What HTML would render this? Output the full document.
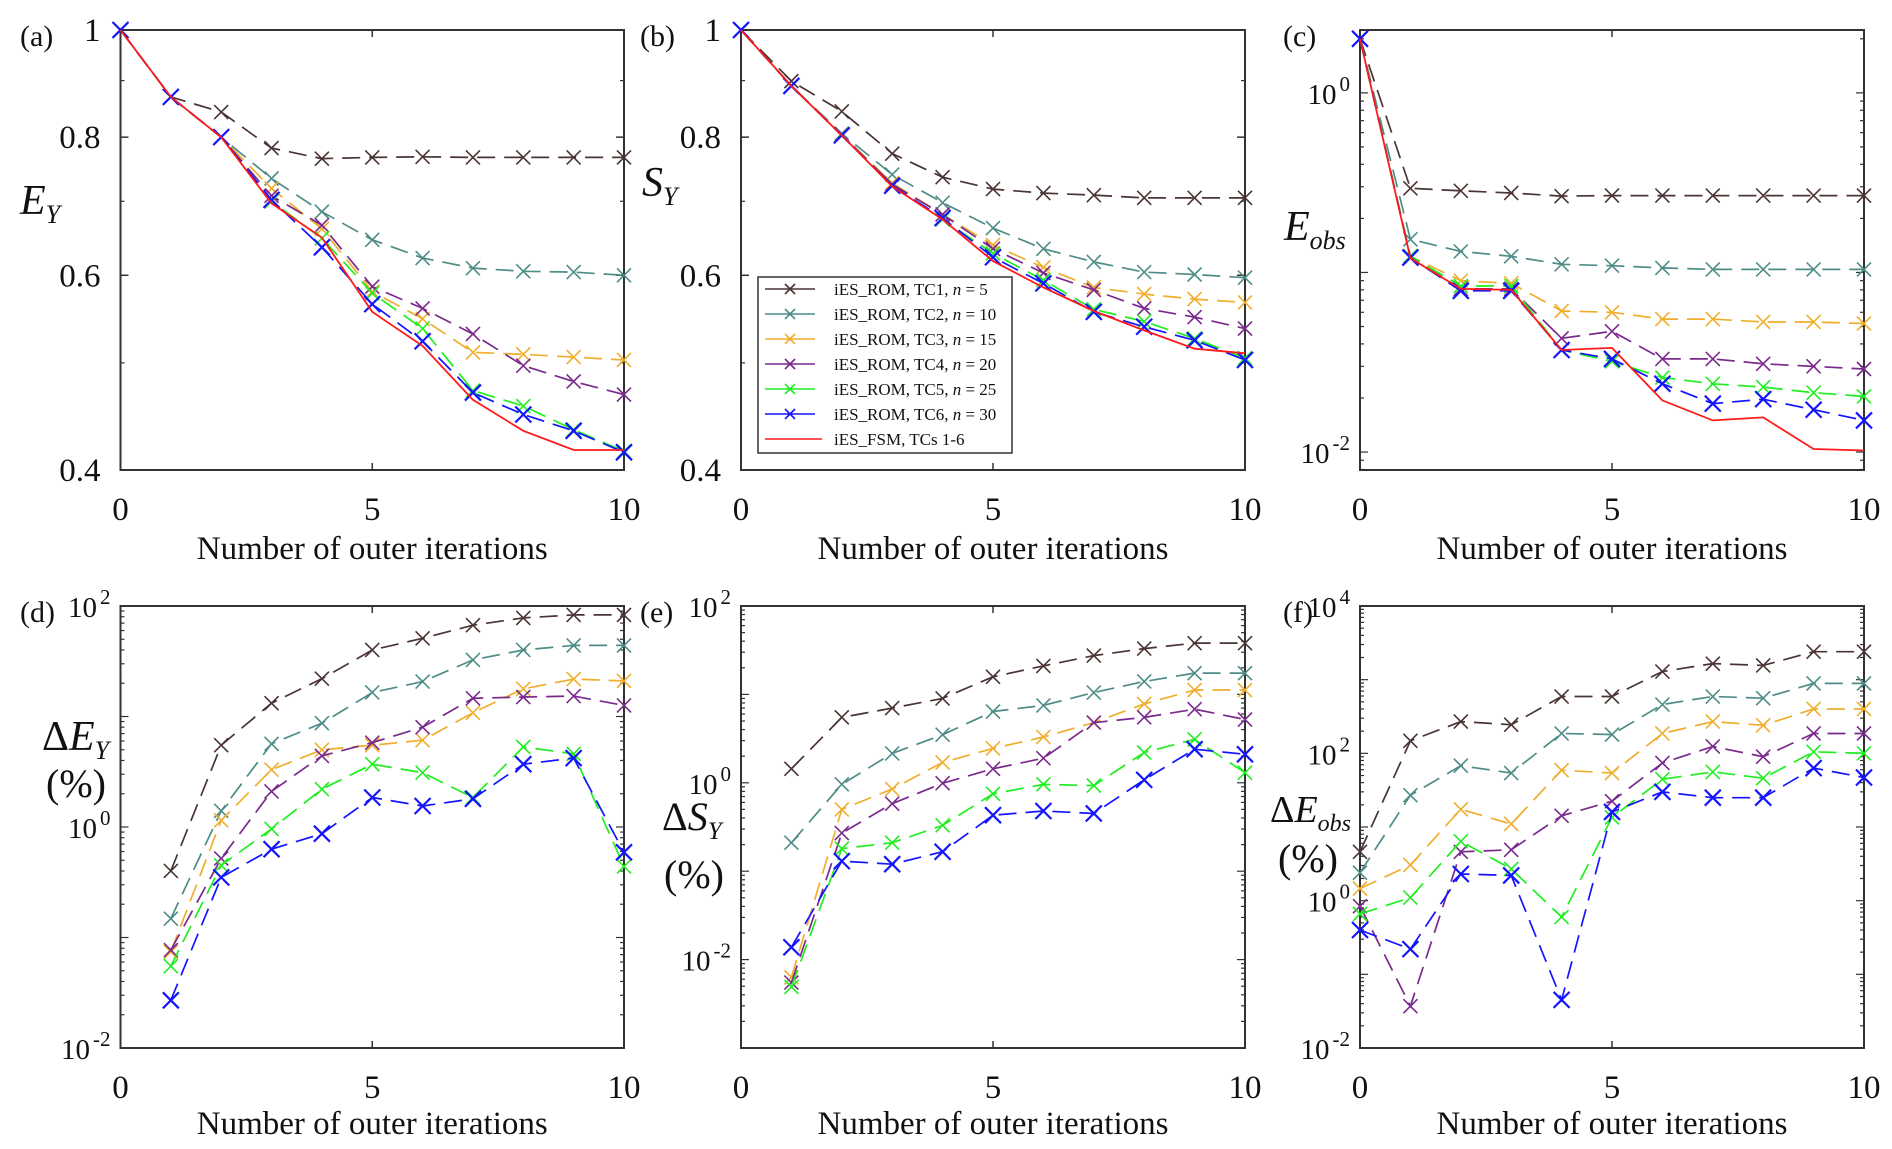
<!DOCTYPE html>
<html><head><meta charset="utf-8"><style>
html,body{margin:0;padding:0;background:#fff;}
svg{display:block;font-family:"Liberation Serif",serif;}
</style></head><body>
<svg id="fig" width="1892" height="1149" viewBox="0 0 1892 1149" xmlns="http://www.w3.org/2000/svg"></svg>
<script>
// ---- data ----
const iters = [0,1,2,3,4,5,6,7,8,9,10];
const itersFrom1 = [1,2,3,4,5,6,7,8,9,10];
const seriesNames = ["iES_ROM, TC1, ","iES_ROM, TC2, ","iES_ROM, TC3, ","iES_ROM, TC4, ","iES_ROM, TC5, ","iES_ROM, TC6, "];
const seriesN = [5,10,15,20,25,30];
const colors = ["#4a3434","#4e8c88","#f0ae2c","#7a2a8c","#20ee20","#1414ff"];
const fsmColor = "#ff1a1a";

const aTC1 = [1,0.87,0.843,0.782,0.765,0.767,0.768,0.767,0.767,0.767,0.767];
const aTC2 = [1,0.87,0.80,0.734,0.685,0.646,0.622,0.609,0.605,0.604,0.600];
const aTC3 = [1,0.87,0.80,0.719,0.661,0.580,0.548,0.511,0.509,0.506,0.503];
const aTC4 = [1,0.87,0.80,0.708,0.666,0.586,0.560,0.531,0.497,0.481,0.468];
const aTC5 = [1,0.87,0.80,0.700,0.648,0.578,0.537,0.472,0.457,0.435,0.416];
const aTC6 = [1,0.87,0.80,0.702,0.636,0.565,0.523,0.470,0.449,0.434,0.415];
const aFSM = [1,0.87,0.80,0.697,0.649,0.556,0.518,0.463,0.434,0.417,0.417];

const bTC1 = [1,0.899,0.844,0.773,0.736,0.718,0.712,0.709,0.705,0.705,0.705];
const bTC2 = [1,0.89,0.806,0.740,0.698,0.662,0.634,0.617,0.604,0.601,0.597];
const bTC3 = [1,0.89,0.804,0.727,0.681,0.639,0.610,0.585,0.577,0.571,0.567];
const bTC4 = [1,0.89,0.804,0.725,0.681,0.634,0.603,0.582,0.560,0.550,0.537];
const bTC5 = [1,0.89,0.803,0.723,0.674,0.628,0.594,0.559,0.545,0.526,0.505];
const bTC6 = [1,0.89,0.803,0.723,0.676,0.623,0.590,0.556,0.539,0.524,0.503];
const bFSM = [1,0.89,0.803,0.722,0.674,0.618,0.585,0.557,0.535,0.515,0.510];

const cTC1 = [2.0,0.294,0.285,0.277,0.266,0.268,0.268,0.268,0.268,0.268,0.268];
const cTC2 = [2.0,0.153,0.131,0.123,0.111,0.109,0.106,0.104,0.104,0.104,0.104];
const cTC3 = [2.0,0.123,0.090,0.087,0.061,0.060,0.055,0.055,0.053,0.053,0.052];
const cTC4 = [2.0,0.123,0.081,0.081,0.043,0.047,0.033,0.033,0.031,0.030,0.029];
const cTC5 = [2.0,0.123,0.084,0.084,0.037,0.032,0.026,0.024,0.023,0.0214,0.0204];
const cTC6 = [2.0,0.121,0.079,0.079,0.037,0.033,0.024,0.0186,0.0197,0.0172,0.015];
const cFSM = [2.0,0.120,0.081,0.080,0.037,0.038,0.0194,0.015,0.0156,0.0104,0.0102];

const dTC1 = [0.40,5.5,13.2,22,40,51,67,78,83,83];
const dTC2 = [0.148,1.4,5.66,8.7,16.5,20.7,32.5,40,44,44];
const dTC3 = [0.074,1.15,3.3,5.0,5.5,6.1,10.8,17.8,21.8,21];
const dTC4 = [0.077,0.52,2.1,4.4,5.8,8.0,14.6,15,15.3,12.6];
const dTC5 = [0.055,0.45,0.96,2.2,3.7,3.1,1.85,5.3,4.6,0.44];
const dTC6 = [0.027,0.35,0.63,0.87,1.85,1.55,1.8,3.7,4.2,0.59];

const eTC1 = [1.44,5.5,7.0,9.0,15.8,21,27.5,33,38,38];
const eTC2 = [0.21,0.96,2.15,3.5,6.4,7.5,10.5,14,17.4,17.4];
const eTC3 = [0.0063,0.5,0.85,1.7,2.45,3.3,4.8,7.8,11.2,11.2];
const eTC4 = [0.0055,0.27,0.58,0.99,1.44,1.9,4.8,5.5,6.8,5.2];
const eTC5 = [0.0049,0.18,0.21,0.33,0.75,0.96,0.93,2.2,3.1,1.3];
const eTC6 = [0.0138,0.13,0.12,0.166,0.43,0.48,0.45,1.08,2.4,2.1];

const fTC1 = [4.6,148,270,245,590,590,1290,1650,1560,2400,2400];
const fTC2 = [2.4,27,68,54,186,180,460,590,560,890,890];
const fTC3 = [1.46,3.05,17.4,11,59,54,186,270,240,400,400];
const fTC4 = [0.84,0.037,4.6,4.9,14.2,22.4,74,124,90,186,186];
const fTC5 = [0.66,1.1,6.4,2.7,0.6,13.5,44.6,56,46,105,100];
const fTC6 = [0.4,0.22,2.3,2.2,0.045,16,30,25,25,63,47];

const xTicks = [0,5,10];
const aTicks = [0.4,0.6,0.8,1];
const aTickLabels = ["0.4","0.6","0.8","1"];

// ---- drawing ----
const NS = "http://www.w3.org/2000/svg";
const svg = document.getElementById("fig");
function mk(tag, attrs, parent){
  const e = document.createElementNS(NS, tag);
  for (const k in attrs) e.setAttribute(k, attrs[k]);
  (parent||svg).appendChild(e);
  return e;
}
const L = Math.log10;
const rowY = [[30,470],[606,1048]];
const colX = [[120.5,624],[741,1245],[1360,1864]];

function makePanel(cfg){
  const g = mk("g", {});
  
  
  const [x0,x1] = colX[cfg.col], [y0,y1] = rowY[cfg.row];
  const xs = v => x0 + (v-0)/(10-0)*(x1-x0);
  const ys = v => y1 - (L(v)-cfg.lmin)/(cfg.lmax-cfg.lmin)*(y1-y0);
  const fr = mk("rect", {x:x0,y:y0,width:x1-x0,height:y1-y0,fill:"none",stroke:"#333",'stroke-width':2}, g);
  
  
  const xg = mk("g", {}, g);
  
  
  xTicks.forEach(t=>{
    const x = xs(t);
    mk("line",{x1:x,x2:x,y1:y1,y2:y1-7,stroke:"#333",'stroke-width':1.5},xg);
    mk("line",{x1:x,x2:x,y1:y0,y2:y0+7,stroke:"#333",'stroke-width':1.5},xg);
    const tl = mk("text",{x:x,y:y1+50,'font-size':33,'text-anchor':'middle',fill:"#111"},xg);
    tl.textContent = t;
    
    
  });
  const xl = mk("text",{x:(x0+x1)/2,y:cfg.row===0?559:1134,'font-size':33,'text-anchor':'middle',fill:"#111"},g);
  xl.textContent = "Number of outer iterations";
  
  
  const yg = mk("g", {}, g);
  
  
  for (let d=Math.floor(cfg.lmin); d<=Math.ceil(cfg.lmax); d++){
    for (let m=1; m<10; m++){
      const lv = d + L(m);
      if (lv < cfg.lmin-1e-9 || lv > cfg.lmax+1e-9) continue;
      const y = ys(Math.pow(10,lv));
      const len = m===1 ? 8 : 4;
      mk("line",{x1:x0,x2:x0+len,y1:y,y2:y,stroke:"#333",'stroke-width':1.2},yg);
      mk("line",{x1:x1,x2:x1-len,y1:y,y2:y,stroke:"#333",'stroke-width':1.2},yg);
    }
  }
  if (cfg.linTicks){
    cfg.linTicks.forEach((t,i)=>{
      const y = ys(t);
      mk("line",{x1:x0,x2:x0+8,y1:y,y2:y,stroke:"#333",'stroke-width':1.5},yg);
      mk("line",{x1:x1,x2:x1-8,y1:y,y2:y,stroke:"#333",'stroke-width':1.5},yg);
      const tl = mk("text",{x:x0-20,y:y+11,'font-size':33,'text-anchor':'end',fill:"#111"},yg);
      tl.textContent = cfg.linLabels[i];
      
      
    });
  } else {
    cfg.decTicks.forEach(p=>{
      const y = ys(Math.pow(10,p));
      const tl = mk("text",{x:x0-10,y:y+11,'font-size':29,'text-anchor':'end',fill:"#111"},yg);
      
      
      const t1 = mk("tspan",{},tl); t1.textContent = "10";
      const t2 = mk("tspan",{dx:3,dy:-13,'font-size':21},tl); t2.textContent = p;
    });
  }
  const pl = mk("text",{x:cfg.labX,y:cfg.row===0?46:622,'font-size':30,fill:"#111"},g);
  pl.textContent = cfg.label;
  
  
  const yt = mk("g",{},g);
  
  
  cfg.ytitle(yt);
  cfg.series.forEach((vals,i)=>{
    const xsArr = cfg.xsArr;
    const sg = mk("g",{},g);
    
    
    const pts = vals.map((v,j)=>xs(xsArr[j]).toFixed(1)+","+ys(v).toFixed(1)).join(" ");
    mk("polyline",{points:pts,fill:"none",stroke:colors[i],'stroke-width':1.7,'stroke-dasharray':"18,9"},sg);
    const s = i===5 ? 8 : 7;
    vals.forEach((v,j)=>{
      const cx = xs(xsArr[j]), cy = ys(v);
      const p = mk("path",{d:`M${cx-s},${cy-s}L${cx+s},${cy+s}M${cx-s},${cy+s}L${cx+s},${cy-s}`,stroke:colors[i],'stroke-width':i===5?2.2:1.6,fill:"none"},sg);
      
      
    });
  });
  if (cfg.fsm){
    const pts = cfg.fsm.map((v,j)=>xs(cfg.xsArr[j]).toFixed(1)+","+ys(v).toFixed(1)).join(" ");
    const fl = mk("polyline",{points:pts,fill:"none",stroke:fsmColor,'stroke-width':1.8},g);
    
    
  }
}
function italicSub(parent,x,y,main,sub,prefix,fs){
  fs = fs || 42;
  const t = mk("text",{x:x,y:y,'font-size':fs,fill:"#111"},parent);
  if (prefix){ const p = mk("tspan",{},t); p.textContent = prefix; }
  const a = mk("tspan",{'font-style':'italic'},t); a.textContent = main;
  const b = mk("tspan",{'font-style':'italic','font-size':Math.round(fs*0.62),dy:9},t); b.textContent = sub;
  return t;
}
function pct(parent,x,y){
  const t = mk("text",{x:x,y:y,'font-size':40,fill:"#111"},parent); t.textContent = "(%)";
}

makePanel({name:"panel-a",col:0,row:0,lmin:L(0.4),lmax:0,linTicks:aTicks,linLabels:aTickLabels,label:"(a)",labX:20,
  xsArr:iters,series:[aTC1,aTC2,aTC3,aTC4,aTC5,aTC6],fsm:aFSM,
  ytitle:g=>italicSub(g,20,214,"E","Y")});
makePanel({name:"panel-b",col:1,row:0,lmin:L(0.4),lmax:0,linTicks:aTicks,linLabels:aTickLabels,label:"(b)",labX:640,
  xsArr:iters,series:[bTC1,bTC2,bTC3,bTC4,bTC5,bTC6],fsm:bFSM,
  ytitle:g=>italicSub(g,642,196,"S","Y")});
makePanel({name:"panel-c",col:2,row:0,lmin:-2.1,lmax:0.35,decTicks:[-2,0],label:"(c)",labX:1283,
  xsArr:iters,series:[cTC1,cTC2,cTC3,cTC4,cTC5,cTC6],fsm:cFSM,
  ytitle:g=>italicSub(g,1284,240,"E","obs")});
makePanel({name:"panel-d",col:0,row:1,lmin:-2,lmax:2,decTicks:[-2,0,2],label:"(d)",labX:20,
  xsArr:itersFrom1,series:[dTC1,dTC2,dTC3,dTC4,dTC5,dTC6],
  ytitle:g=>{italicSub(g,42,750,"E","Y","Δ");pct(g,46,797);}});
makePanel({name:"panel-e",col:1,row:1,lmin:-3,lmax:2,decTicks:[-2,0,2],label:"(e)",labX:640,
  xsArr:itersFrom1,series:[eTC1,eTC2,eTC3,eTC4,eTC5,eTC6],
  ytitle:g=>{italicSub(g,662,830,"S","Y","Δ",40);pct(g,664,888);}});
makePanel({name:"panel-f",col:2,row:1,lmin:-2,lmax:4,decTicks:[-2,0,2,4],label:"(f)",labX:1283,
  xsArr:iters,series:[fTC1,fTC2,fTC3,fTC4,fTC5,fTC6],
  ytitle:g=>{italicSub(g,1270,822,"E","obs","Δ",38);pct(g,1278,872);}});

// legend
const lg = mk("g",{});


mk("rect",{x:758,y:277,width:254,height:176,fill:"#fff",stroke:"#333",'stroke-width':1.5},lg);
for (let i=0;i<7;i++){
  const y = 289 + 25*i;
  const e = mk("g",{},lg);
  
  
  const c = i<6 ? colors[i] : fsmColor;
  mk("line",{x1:765,x2:i<6?815:822,y1:y,y2:y,stroke:c,'stroke-width':1.6},e);
  if (i<6) mk("path",{d:`M${790-5},${y-5}L${790+5},${y+5}M${790-5},${y+5}L${790+5},${y-5}`,stroke:c,'stroke-width':1.6},e);
  const t = mk("text",{x:834,y:y+6,'font-size':17,fill:"#111"},e);
  if (i<6){
    const a = mk("tspan",{},t); a.textContent = seriesNames[i];
    const b = mk("tspan",{'font-style':'italic'},t); b.textContent = "n";
    const c2 = mk("tspan",{},t); c2.textContent = " = " + seriesN[i];
  } else t.textContent = "iES_FSM, TCs 1-6";
}
</script>
</body></html>
